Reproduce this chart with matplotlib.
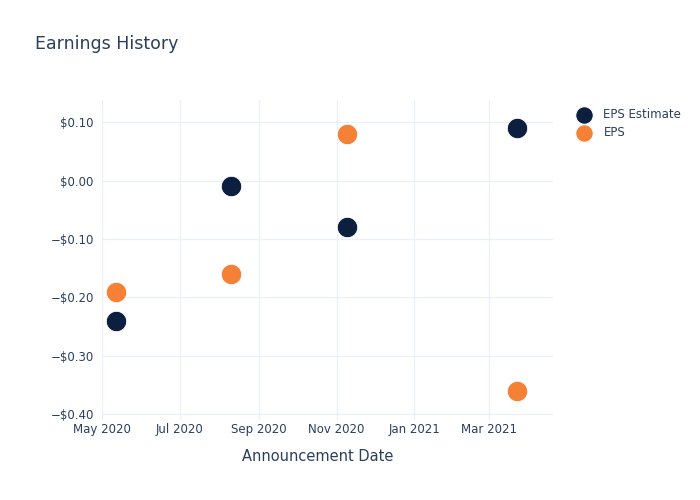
import matplotlib
matplotlib.use("Agg")
import matplotlib.pyplot as plt
import matplotlib.dates as mdates
import pandas as pd

# Earnings announcements
dates = pd.to_datetime(["2020-05-12", "2020-08-10", "2020-11-09", "2021-03-23"])
eps_estimate = [-0.24, -0.01, -0.08, 0.09]
eps_actual = [-0.19, -0.16, 0.08, -0.36]
y_ticks = [0.10, 0.0, -0.10, -0.20, -0.30, -0.40]

text_color = "#2a3f5f"
grid_color = "#ebf0f8"
navy = "#0c1f3f"
orange = "#f58137"

plt.rcParams["font.family"] = ["DejaVu Sans"]

fig = plt.figure(figsize=(7, 5), dpi=100)
ax = fig.add_axes([0.146, 0.16, 0.644, 0.64])

ax.scatter(dates, eps_estimate, s=215, color=navy, edgecolors="white",
           linewidths=0.6, label="EPS Estimate", zorder=3)
ax.scatter(dates, eps_actual, s=215, color=orange, edgecolors="white",
           linewidths=0.6, label="EPS", zorder=3)

ax.set_ylim(-0.41, 0.138)
ax.set_xlim(pd.Timestamp("2020-05-01"), pd.Timestamp("2021-04-20"))
ax.set_yticks(y_ticks)
ax.set_yticklabels([("\u2212$%.2f" % abs(v)) if v < 0 else "$%.2f" % v for v in y_ticks])

ax.xaxis.set_major_locator(mdates.MonthLocator(bymonth=[1, 3, 5, 7, 9, 11]))
ax.xaxis.set_major_formatter(mdates.DateFormatter("%b %Y"))

ax.grid(True, color=grid_color, linewidth=0.9)
ax.set_axisbelow(True)
for s in ax.spines.values():
    s.set_visible(False)
ax.tick_params(axis="y", length=0, labelsize=8.5, colors=text_color, pad=6)
ax.tick_params(axis="x", length=0, labelsize=8.5, colors=text_color, pad=2)

ax.set_xlabel("Announcement Date", fontsize=10.5, color=text_color)
ax.xaxis.set_label_coords(0.477, -0.09)
fig.text(0.05, 0.912, "Earnings History", fontsize=12.5, color=text_color, va="center")

leg = ax.legend(loc="upper left", bbox_to_anchor=(1.032, 0.99), frameon=False,
                fontsize=8.5, labelcolor=text_color, handletextpad=0.65,
                borderaxespad=0, labelspacing=0.45, markerscale=0.85)

fig.savefig("out.png", dpi=100, facecolor="white")
